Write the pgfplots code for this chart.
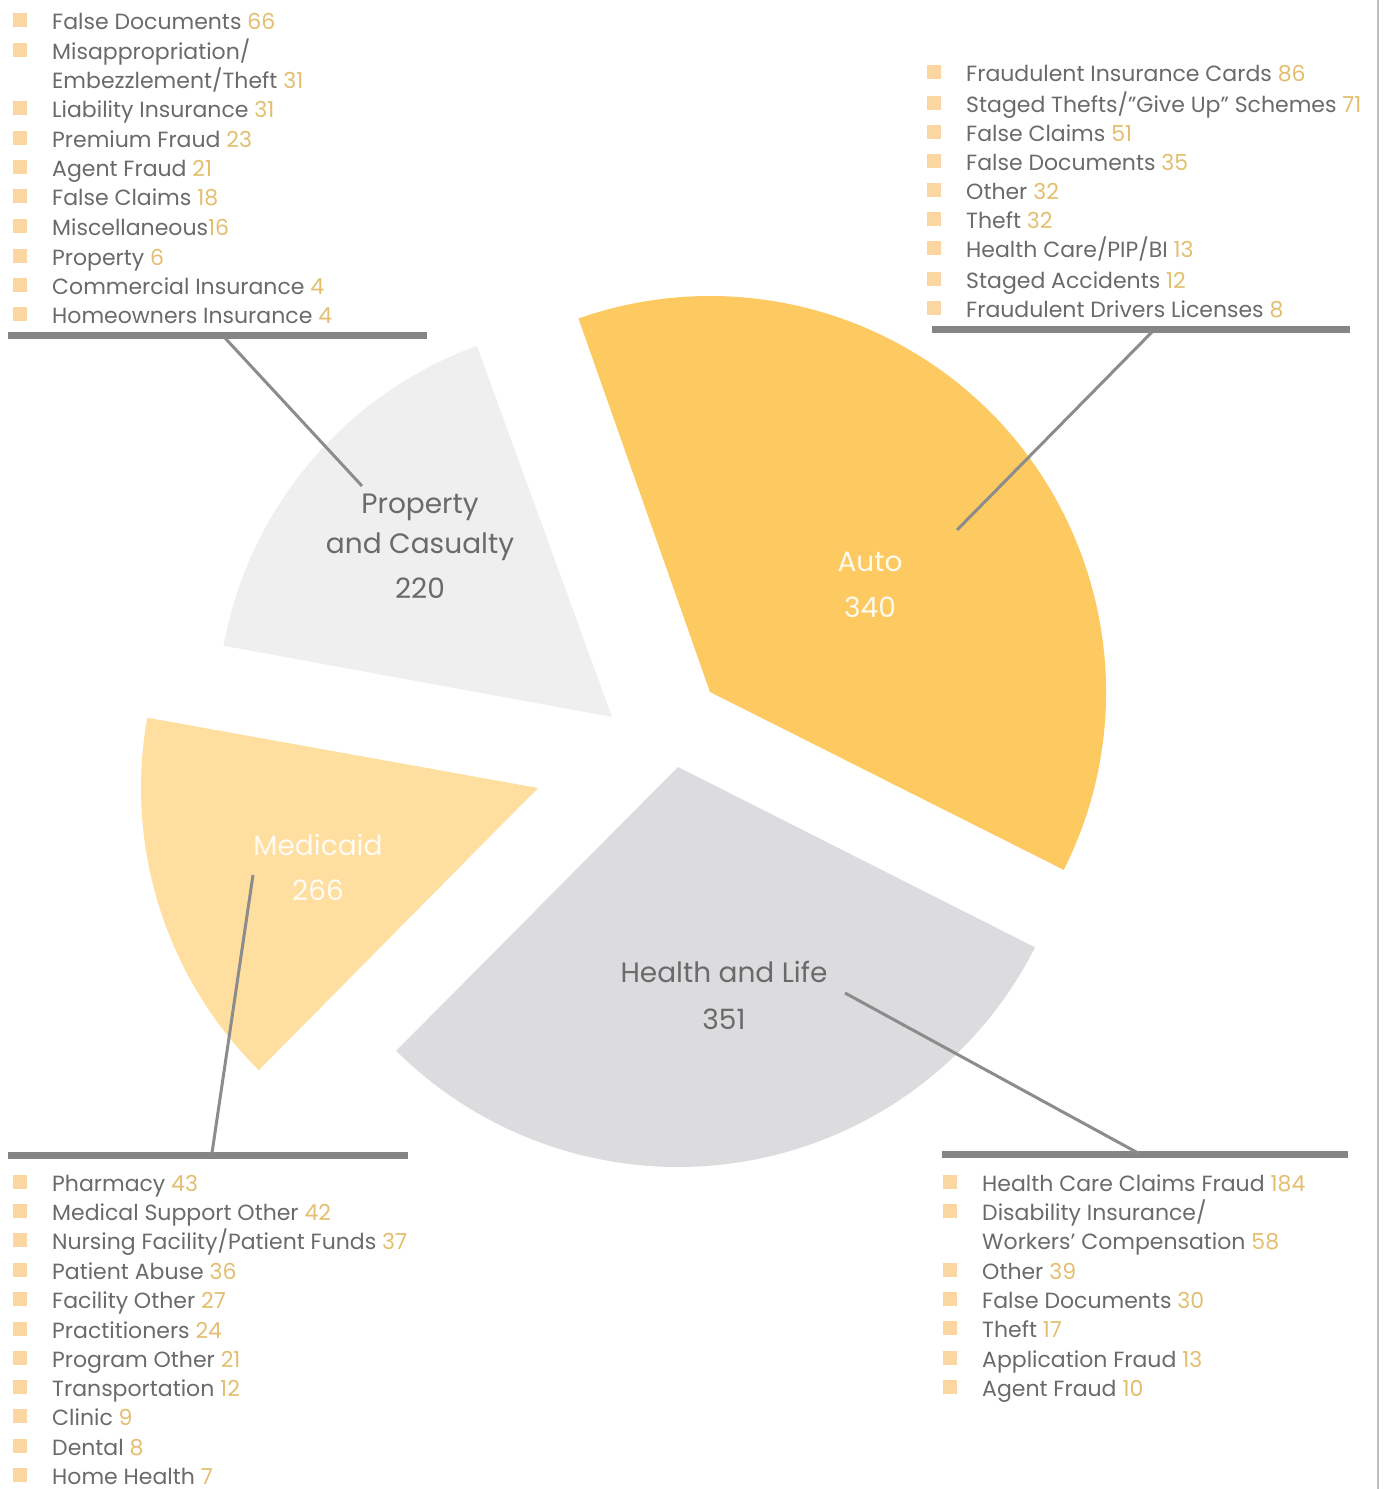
\documentclass[border=0pt]{standalone}
\usepackage{fontspec}
\setmainfont{Poppins}
\usepackage{pgfplots}
\pgfplotsset{compat=1.18}
\definecolor{autoc}{HTML}{FDC961}
\definecolor{medc}{HTML}{FEDFA0}
\definecolor{pcc}{HTML}{EFEFEF}
\definecolor{hlc}{HTML}{DCDCDF}
\definecolor{bul}{HTML}{FCD6A0}
\definecolor{txt}{HTML}{6A6A6A}
\definecolor{num}{HTML}{E2BE6E}
\definecolor{barc}{HTML}{858585}
\definecolor{leadc}{HTML}{8C8C8C}
\newcommand\li[4]{%
  \fill[bul] (axis cs:#1-39,#2-4) rectangle (axis cs:#1-25,#2+10);
  \node[anchor=mid west,inner sep=0pt,text=txt] at (axis cs:#1,#2) {#3 \textcolor{num}{#4}};}
\newcommand\lc[3]{%
  \node[anchor=mid west,inner sep=0pt,text=txt] at (axis cs:#1,#2) {#3};}
\begin{document}
\begin{tikzpicture}
\begin{axis}[x=1pt,y=1pt,xmin=0,xmax=1382,ymin=0,ymax=1489,hide axis,clip=false,disabledatascaling]
% sectors
\fill[autoc] (axis cs:710,797) -- ++(-26.7:396pt) arc[start angle=-26.7,end angle=109.4,radius=396pt] -- cycle;
\fill[pcc] (axis cs:612,772) -- ++(110:395pt) arc[start angle=110,end angle=169.6,radius=395pt] -- cycle;
\fill[medc] (axis cs:538,701) -- ++(169.8:397pt) arc[start angle=169.8,end angle=225.3,radius=397pt] -- cycle;
\fill[hlc] (axis cs:678,722) -- ++(225.2:400pt) arc[start angle=225.2,end angle=333.2,radius=400pt] -- cycle;
% bars and leaders
\draw[barc,line width=7pt] (axis cs:8,1153) -- (axis cs:427,1153);
\draw[barc,line width=7pt] (axis cs:932,1159) -- (axis cs:1350,1159);
\draw[barc,line width=7pt] (axis cs:8,333) -- (axis cs:408,333);
\draw[barc,line width=7pt] (axis cs:942,334) -- (axis cs:1348,334);
\draw[leadc,line width=3pt] (axis cs:225,1151) -- (axis cs:362,1003);
\draw[leadc,line width=3pt] (axis cs:1152,1157) -- (axis cs:957,959);
\draw[leadc,line width=3pt] (axis cs:253,614) -- (axis cs:212,336);
\draw[leadc,line width=3pt] (axis cs:845,496) -- (axis cs:1138,336);
\draw[black!25,line width=1.5pt] (axis cs:1378,0) -- (axis cs:1378,1489);
% sector labels
\begin{scope}[every node/.style={anchor=base,inner sep=0pt,font=\fontsize{28}{33}\selectfont}]
\node[text=txt] at (axis cs:420,975) {Property};
\node[text=txt] at (axis cs:420,935) {and Casualty};
\node[text=txt] at (axis cs:420,890) {220};
\node[text=white!90!autoc] at (axis cs:870,917) {Auto};
\node[text=white!90!autoc] at (axis cs:870,871) {340};
\node[text=white!88!medc] at (axis cs:318,633) {Medicaid};
\node[text=white!88!medc] at (axis cs:318,588) {266};
\node[text=txt] at (axis cs:724,506) {Health and Life};
\node[text=txt] at (axis cs:724,459) {351};
\end{scope}
% lists
\fontsize{22}{27}\selectfont
\li{52}{1466}{False Documents}{66}
\li{52}{1436}{Misappropriation/}{}
\lc{52}{1407}{Embezzlement/Theft \textcolor{num}{31}}
\li{52}{1378}{Liability Insurance}{31}
\li{52}{1348}{Premium Fraud}{23}
\li{52}{1319}{Agent Fraud}{21}
\li{52}{1290}{False Claims}{18}
\li{52}{1260}{Miscellaneous\textcolor{num}{16}}{}
\li{52}{1230}{Property}{6}
\li{52}{1201}{Commercial Insurance}{4}
\li{52}{1172}{Homeowners Insurance}{4}
%
\li{966}{1414}{Fraudulent Insurance Cards}{86}
\li{966}{1383}{Staged Thefts/”Give Up” Schemes}{71}
\li{966}{1354}{False Claims}{51}
\li{966}{1325}{False Documents}{35}
\li{966}{1296}{Other}{32}
\li{966}{1267}{Theft}{32}
\li{966}{1238}{Health Care/PIP/BI}{13}
\li{966}{1207}{Staged Accidents}{12}
\li{966}{1178}{Fraudulent Drivers Licenses}{8}
%
\li{52}{304}{Pharmacy}{43}
\li{52}{275}{Medical Support Other}{42}
\li{52}{246}{Nursing Facility/Patient Funds}{37}
\li{52}{216}{Patient Abuse}{36}
\li{52}{187}{Facility Other}{27}
\li{52}{157}{Practitioners}{24}
\li{52}{128}{Program Other}{21}
\li{52}{99}{Transportation}{12}
\li{52}{70}{Clinic}{9}
\li{52}{40}{Dental}{8}
\li{52}{11}{Home Health}{7}
%
\li{982}{304}{Health Care Claims Fraud}{184}
\li{982}{275}{Disability Insurance/}{}
\lc{982}{246}{Workers’ Compensation \textcolor{num}{58}}
\li{982}{216}{Other}{39}
\li{982}{187}{False Documents}{30}
\li{982}{158}{Theft}{17}
\li{982}{128}{Application Fraud}{13}
\li{982}{99}{Agent Fraud}{10}
\end{axis}
\pgfresetboundingbox
\path (current axis.south west) rectangle (current axis.north east);
\end{tikzpicture}
\end{document}
